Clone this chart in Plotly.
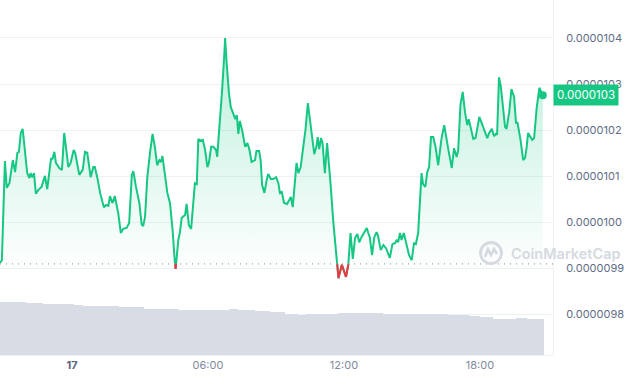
import pandas as pd
import plotly.graph_objects as go

# ---------------- data ----------------
start_time = pd.Timestamp("2024-03-16 20:49:24")

# minutes after start_time
minutes = [0, 5, 13, 18, 25, 34, 40, 46, 50, 55, 60, 66, 72, 78, 81, 85, 90, 95, 101, 110,
           119, 125, 135, 139, 144, 148, 157, 164, 170, 181, 187, 195, 199, 210, 219, 225, 231, 240, 247, 251,
           258, 265, 269, 275, 281, 287, 291, 298, 304, 313, 320, 326, 335, 342, 349, 353, 360, 369, 375, 379,
           384, 390, 397, 404, 410, 416, 422, 426, 430, 435, 443, 450, 457, 463, 465, 472, 476, 481, 490, 494,
           500, 506, 512, 516, 521, 525, 531, 537, 543, 549, 553, 559, 565, 572, 575, 582, 588, 594, 596, 600,
           606, 611, 618, 623, 627, 631, 635, 641, 649, 655, 660, 666, 675, 679, 686, 690, 694, 700, 706, 710,
           717, 723, 731, 737, 741, 746, 752, 760, 770, 775, 785, 790, 796, 803, 809, 815, 821, 827, 832, 838,
           841, 845, 850, 854, 860, 866, 871, 875, 882, 889, 896, 905, 916, 922, 928, 934, 940, 946, 951, 957,
           964, 971, 975, 979, 985, 991, 997, 1001, 1008, 1015, 1022, 1028, 1032, 1039, 1046, 1050, 1054, 1059, 1063, 1069,
           1077, 1083, 1090, 1096, 1101, 1107, 1116, 1120, 1126, 1131, 1136, 1141, 1147, 1153, 1160, 1169, 1176, 1182, 1188, 1196,
           1202, 1209, 1213, 1219, 1225, 1231, 1237, 1241, 1246, 1253, 1259, 1269, 1275, 1284, 1290, 1295, 1302, 1308, 1313, 1316,
           1321, 1326, 1332, 1337, 1341, 1348, 1354, 1361, 1366, 1370, 1378, 1385, 1390, 1394, 1398, 1403, 1409, 1414, 1421, 1428,
           1434, 1437]

# price in units of 1e-7 USD
price_e7 = [99.12, 99.18, 101.33, 100.75, 100.85, 101.35, 101.09, 101.51, 101.53, 101.94, 102.03, 101.51, 101.07, 100.96, 101.07, 100.98, 101.07, 100.62, 100.70, 100.77,
            101.01, 100.72, 101.38, 101.38, 101.53, 101.29, 101.18, 101.14, 101.94, 101.20, 101.29, 101.57, 101.51, 101.03, 101.14, 101.53, 101.51, 100.98, 101.20, 101.20,
            100.96, 100.64, 100.53, 100.33, 100.38, 100.36, 100.57, 100.42, 100.57, 100.20, 99.77, 99.86, 99.88, 99.99, 101.03, 101.11, 100.77, 100.42, 99.96, 99.92,
            100.12, 100.98, 101.51, 101.92, 101.64, 101.24, 101.35, 101.31, 101.44, 101.14, 100.64, 100.42, 99.83, 99.12, 98.99, 99.62, 99.77, 100.10, 100.16, 100.40,
            99.94, 99.86, 100.55, 100.85, 100.83, 101.81, 101.77, 101.79, 101.57, 101.20, 101.29, 101.64, 101.64, 101.57, 101.42, 102.16, 102.87, 103.67, 104.00, 103.46,
            102.81, 102.50, 102.35, 102.24, 102.33, 101.92, 102.20, 102.00, 101.64, 101.72, 101.59, 101.31, 101.35, 101.55, 101.55, 101.35, 100.81, 100.64, 100.92, 101.05,
            100.94, 100.94, 100.98, 100.85, 100.64, 100.66, 100.42, 100.40, 100.55, 100.33, 101.29, 101.07, 101.20, 101.64, 102.03, 102.59, 102.22, 101.85, 101.48, 101.66,
            101.85, 101.59, 101.83, 101.72, 101.07, 101.72, 101.29, 100.85, 100.05, 99.47, 98.79, 99.08, 98.82, 99.08, 99.77, 99.21, 99.66, 99.75, 99.57, 99.68,
            99.79, 99.88, 99.77, 99.68, 99.29, 99.68, 99.79, 99.70, 99.40, 99.51, 99.44, 99.29, 99.23, 99.53, 99.55, 99.62, 99.57, 99.77, 99.62, 99.77,
            99.47, 99.29, 99.18, 99.55, 99.53, 99.77, 101.07, 100.83, 100.77, 101.09, 101.20, 101.85, 101.85, 101.64, 101.24, 101.83, 102.11, 101.79, 101.53, 101.18,
            101.61, 101.42, 101.57, 102.55, 102.83, 102.39, 102.11, 102.24, 102.07, 101.81, 101.83, 102.29, 102.16, 101.96, 101.83, 101.94, 102.03, 101.87, 101.92, 101.90,
            103.15, 102.94, 102.37, 102.07, 102.03, 102.39, 102.89, 102.72, 102.16, 102.16, 101.79, 101.35, 101.40, 101.61, 101.94, 101.87, 101.79, 101.83, 102.50, 102.92,
            102.81, 102.76]

open_price_e7 = 99.10
current_label = "0.0000103"

# volume bars (every 5 minutes): level (millions) and run length (number of bars)
vol_levels = [5.33, 5.27, 5.17, 5.10, 5.00, 4.90, 4.83, 4.63, 4.57, 4.50, 4.60, 4.50, 4.40, 4.30, 4.10,
              4.03, 4.10, 4.20, 4.10, 4.00, 3.93, 3.77, 3.63, 3.73, 3.60]
vol_counts = [8, 6, 9, 16, 5, 19, 13, 16, 3, 26, 5, 9, 8, 8, 7,
              4, 17, 24, 34, 12, 5, 7, 12, 6, 9]
bar_minutes = 5

tick_times = ["2024-03-17 00:00", "2024-03-17 06:00", "2024-03-17 12:00", "2024-03-17 18:00"]
tick_text = ["<span style='color:#58667e'><b>17</b></span>", "06:00", "12:00", "18:00"]
y_ticks_e7 = [98, 99, 100, 101, 102, 103, 104]

# ---------------- derived ----------------
GREEN = "#16c784"
RED = "#ea3943"
times = [start_time + pd.Timedelta(minutes=m) for m in minutes]
prices = [p * 1e-7 for p in price_e7]
base = open_price_e7 * 1e-7

# red segments below the open price
rx, ry = [], []
for i in range(len(prices)):
    below = prices[i] < base
    if i > 0 and below != (prices[i - 1] < base):
        f = (base - prices[i - 1]) / (prices[i] - prices[i - 1])
        tc = times[i - 1] + (times[i] - times[i - 1]) * f
        rx.append(tc)
        ry.append(base)
        if not below:
            rx.append(None)
            ry.append(None)
    if below:
        rx.append(times[i])
        ry.append(prices[i])

vol_x, vol_y = [], []
k = 0
for lvl, cnt in zip(vol_levels, vol_counts):
    for _ in range(cnt):
        vol_x.append(start_time + pd.Timedelta(minutes=k * bar_minutes + bar_minutes / 2))
        vol_y.append(lvl)
        k += 1

fig = go.Figure()

fig.add_trace(go.Bar(
    x=vol_x, y=vol_y, yaxis="y2",
    marker=dict(color="#d7dce5", line=dict(width=0)),
    width=bar_minutes * 60 * 1000 * 0.5,
    hoverinfo="skip", showlegend=False,
))

fig.add_trace(go.Scatter(
    x=times, y=prices, mode="lines",
    line=dict(color=GREEN, width=2),
    fill="tozeroy",
    fillgradient=dict(
        type="vertical",
        start=98.9e-7, stop=104.2e-7,
        colorscale=[[0, "rgba(22,199,132,0)"], [1, "rgba(22,199,132,0.30)"]],
    ),
    hoverinfo="skip", showlegend=False,
))

fig.add_trace(go.Scatter(
    x=rx, y=ry, mode="lines",
    line=dict(color=RED, width=2),
    connectgaps=False,
    hoverinfo="skip", showlegend=False,
))

fig.add_trace(go.Scatter(
    x=[times[-1]], y=[prices[-1]], mode="markers",
    marker=dict(color=GREEN, size=8),
    hoverinfo="skip", showlegend=False,
))

# dotted open-price line
fig.add_shape(type="line", xref="paper", x0=0, x1=1, yref="y", y0=base, y1=base,
              line=dict(color="#9aa3b2", width=1.3, dash="1px,5px"), layer="above")

# current price badge
fig.add_annotation(
    xref="paper", x=1.0, xanchor="left", yref="y", y=prices[-1], yanchor="middle",
    text=current_label, showarrow=False,
    font=dict(family="Inter", size=11.5, color="white"),
    bgcolor=GREEN, borderpad=3,
)

# watermark
fig.add_annotation(
    xref="paper", x=509 / 553, xanchor="left", yref="paper", y=1 - 253 / 355, yanchor="middle",
    text="CoinMarketCap", showarrow=False,
    font=dict(family="Inter", size=14.5, color="#d5d9e0", weight=600),
)
fig.add_shape(type="circle", xref="paper", yref="paper",
              xsizemode="pixel", ysizemode="pixel",
              xanchor=491 / 553, yanchor=1 - 253 / 355,
              x0=-10.5, x1=10.5, y0=-10.5, y1=10.5,
              line=dict(color="#d5d9e0", width=2.8), layer="above")
fig.add_shape(type="path", xref="paper", yref="paper",
              xsizemode="pixel", ysizemode="pixel",
              xanchor=491 / 553, yanchor=1 - 253 / 355,
              path="M -6,-4 L -3,4 L 0,-2 L 3,4 L 6,-1",
              line=dict(color="#d5d9e0", width=2.6), layer="above")

fig.update_layout(
    width=630, height=380,
    margin=dict(l=0, r=77, t=0, b=25),
    paper_bgcolor="white", plot_bgcolor="white",
    font=dict(family="Inter", size=11, color="#808a9d"),
    bargap=0,
    xaxis=dict(
        type="date",
        range=[start_time, start_time + pd.Timedelta(minutes=1464)],
        tickvals=tick_times, ticktext=tick_text,
        showgrid=False, zeroline=False,
        showline=True, linecolor="#eff2f5", linewidth=1,
        ticks="", tickfont=dict(size=11, color="#808a9d"),
        fixedrange=True,
    ),
    yaxis=dict(
        side="right",
        range=[97.124e-7, 104.824e-7],
        tickvals=[v * 1e-7 for v in y_ticks_e7],
        tickformat=".7f",
        showgrid=True, gridcolor="#eff2f5", gridwidth=1,
        zeroline=False,
        showline=True, linecolor="#eff2f5",
        ticks="", ticklabelstandoff=10,
        tickfont=dict(size=11, color="#616e85"),
    ),
    yaxis2=dict(
        overlaying="y", range=[0, 35.5], visible=False, showgrid=False,
    ),
)

fig.write_html("out.html")
